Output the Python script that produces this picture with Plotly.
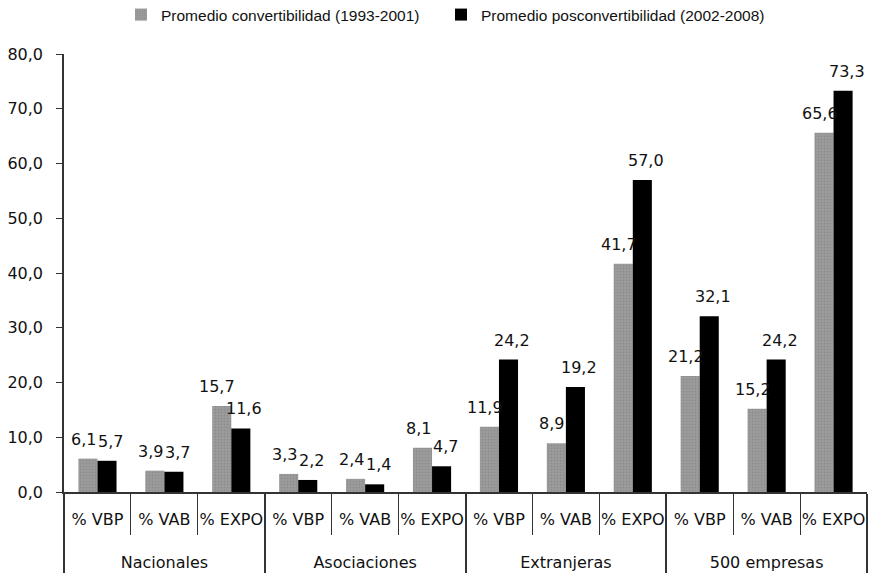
import plotly.graph_objects as go

groups = ["Nacionales"] * 3 + ["Asociaciones"] * 3 + ["Extranjeras"] * 3 + ["500 empresas"] * 3
subcats = ["% VBP", "% VAB", "% EXPO"] * 4
convert = [6.1, 3.9, 15.7, 3.3, 2.4, 8.1, 11.9, 8.9, 41.7, 21.2, 15.2, 65.6]
poscon = [5.7, 3.7, 11.6, 2.2, 1.4, 4.7, 24.2, 19.2, 57.0, 32.1, 24.2, 73.3]
series_names = ["Promedio convertibilidad (1993-2001)", "Promedio posconvertibilidad (2002-2008)"]
y_ticks = [0, 10, 20, 30, 40, 50, 60, 70, 80]

FONT = "DejaVu Sans, Verdana, sans-serif"
label_font = dict(family=FONT, size=16, color="#111")

# sub-category labels get an extra (blank) line so the outer level sits lower
sub_display = [s + "<br><span style='font-size:45px'>\u00a0</span>" for s in subcats]

fig = go.Figure()
fig.add_trace(go.Bar(
    x=[groups, sub_display], y=convert, name=series_names[0], legend="legend",
    showlegend=True,
    marker=dict(color="#9c9c9c", line=dict(width=0),
                pattern=dict(shape=".", fgcolor="#7c7c7c", size=3, solidity=0.3)),
))
fig.add_trace(go.Bar(
    x=[groups, sub_display], y=poscon, name=series_names[1], legend="legend2",
    showlegend=True,
    marker=dict(color="#000000", line=dict(width=0)),
))

annotations = []
for i in range(len(subcats)):
    for vals, dx in ((convert, -14), (poscon, 13)):
        annotations.append(dict(
            x=i, y=vals[i], xref="x", yref="y",
            text=f"{vals[i]:.1f}".replace(".", ","),
            showarrow=False, xshift=dx, yshift=8, yanchor="bottom",
            font=label_font,
        ))

legend_common = dict(
    orientation="h", xanchor="left", xref="container",
    y=1 - 15 / 574, yanchor="middle", yref="container",
    font=dict(family="Liberation Sans Narrow, Liberation Sans, Arial", size=15.5, color="#111"),
    itemwidth=30, bgcolor="rgba(0,0,0,0)", visible=True,
)

fig.update_layout(
    width=870, height=574,
    showlegend=True,
    barmode="group", bargap=0.43, bargroupgap=0.0,
    separators=",.",
    plot_bgcolor="white", paper_bgcolor="white",
    margin=dict(l=64, r=3, t=54, b=82, autoexpand=False),
    font=dict(family=FONT, size=16, color="#111"),
    annotations=annotations,
    legend=dict(x=121 / 870, **legend_common),
    legend2=dict(x=441 / 870, **legend_common),
)
fig.update_yaxes(
    range=[0, 80], tickvals=y_ticks, tickformat=".1f",
    showgrid=False, zeroline=False,
    showline=True, linecolor="#333", linewidth=1.5,
    ticks="outside", ticklen=6, tickcolor="#333",
    ticklabelstandoff=10,
    tickfont=dict(family=FONT, size=16, color="#111"),
    automargin=False,
)
fig.update_xaxes(
    showline=True, linecolor="#333", linewidth=1.5,
    showdividers=True, dividercolor="#333", dividerwidth=1.5,
    ticks="outside", ticklen=41, tickcolor="#333", tickwidth=1.2, tickson="boundaries",
    tickangle=0, ticklabelstandoff=12,
    tickfont=dict(family=FONT, size=16, color="#111"),
    automargin=False,
)

fig.write_html("out.html", post_script="document.body.style.margin='0';",
               config={"displayModeBar": False})
